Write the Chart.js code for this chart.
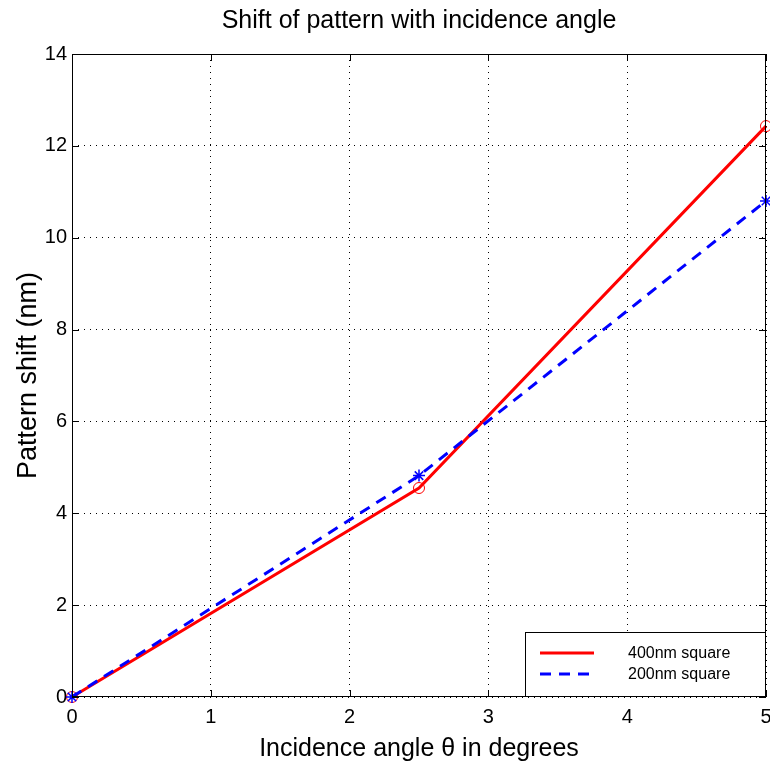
<!DOCTYPE html>
<html lang="en">
<head>
    <meta charset="UTF-8">
    <title>Shift of pattern with incidence angle</title>
    <script src="https://cdn.jsdelivr.net/npm/chart.js@4.4.0/dist/chart.umd.min.js"></script>
    <style>
        body { margin: 0; background: #fff; }
    </style>
</head>
<body>
    <canvas id="grafico" width="770" height="762"></canvas>

<script>
    // dados
    var angulos = [0, 2.5, 5];
    var shift400 = [0, 4.55, 12.43];
    var shift200 = [0, 4.82, 10.8];
    var nomes = ['400nm square', '200nm square'];
    var ticksX = [0, 1, 2, 3, 4, 5];
    var ticksY = [0, 2, 4, 6, 8, 10, 12, 14];

    var fonte = '"Liberation Sans", Arial, sans-serif';

    // moldura, ticks para dentro e legenda estilo matlab
    const moldura = {
        id: 'moldura',
        afterDatasetsDraw(chart) {
            const ctx = chart.ctx;
            const a = chart.chartArea;
            const sx = chart.scales.x;
            const sy = chart.scales.y;
            ctx.save();
            ctx.strokeStyle = '#000';
            ctx.lineWidth = 1;
            ctx.setLineDash([]);
            ctx.strokeRect(a.left + 0.5, a.top + 0.5, a.right - a.left - 1, a.bottom - a.top - 1);
            ctx.beginPath();
            ticksX.forEach(function (v) {
                var px = Math.round(sx.getPixelForValue(v)) + 0.5;
                ctx.moveTo(px, a.bottom); ctx.lineTo(px, a.bottom - 7);
                ctx.moveTo(px, a.top); ctx.lineTo(px, a.top + 7);
            });
            ticksY.forEach(function (v) {
                var py = Math.round(sy.getPixelForValue(v)) + 0.5;
                ctx.moveTo(a.left, py); ctx.lineTo(a.left + 7, py);
                ctx.moveTo(a.right, py); ctx.lineTo(a.right - 7, py);
            });
            ctx.stroke();

            // legenda
            var lx = a.right - 241, ly = a.bottom - 65;
            ctx.fillStyle = '#fff';
            ctx.fillRect(lx, ly, 241, 65);
            ctx.strokeRect(lx + 0.5, ly + 0.5, 240, 64);
            var ds = chart.data.datasets;
            ctx.font = '16px ' + fonte;
            ctx.textBaseline = 'middle';
            ctx.textAlign = 'left';
            [0, 1].forEach(function (i) {
                var y = ly + 21 + i * 21;
                ctx.strokeStyle = ds[i].borderColor;
                ctx.lineWidth = 3;
                ctx.setLineDash(ds[i].borderDash || []);
                ctx.beginPath();
                ctx.moveTo(lx + 15, y);
                ctx.lineTo(lx + 69, y);
                ctx.stroke();
                ctx.fillStyle = '#000';
                ctx.fillText(ds[i].label, lx + 103, y + 1);
            });
            ctx.restore();
        }
    };

    const ctx = document.getElementById('grafico').getContext('2d');
    const myChart = new Chart(ctx, {
        type: 'line',
        data: {
            labels: angulos,
            datasets: [{
                label: nomes[0],
                data: angulos.map(function (x, i) { return { x: x, y: shift400[i] }; }),
                borderColor: '#ff0000',
                backgroundColor: 'rgba(0,0,0,0)',
                borderWidth: 3,
                pointStyle: 'circle',
                pointRadius: 5.5,
                pointBorderWidth: 1,
                pointBorderColor: '#ff0000',
                tension: 0,
                order: 1
            }, {
                label: nomes[1],
                data: angulos.map(function (x, i) { return { x: x, y: shift200[i] }; }),
                borderColor: '#0000ff',
                backgroundColor: 'rgba(0,0,0,0)',
                borderWidth: 3,
                borderDash: [11, 8],
                pointStyle: 'star',
                pointRadius: 6,
                pointBorderWidth: 1.5,
                pointBorderColor: '#0000ff',
                tension: 0,
                order: 0
            }]
        },
        options: {
            responsive: false,
            animation: false,
            clip: false,
            layout: { autoPadding: false, padding: { right: 4, left: 0, bottom: 0, top: 0 } },
            plugins: {
                legend: { display: false },
                tooltip: { enabled: false },
                title: {
                    display: true,
                    fullSize: false,
                    text: 'Shift of pattern with incidence angle',
                    color: '#000',
                    font: { family: fonte, size: 25, weight: 'normal', lineHeight: 1.2 },
                    padding: { top: 6, bottom: 18 }
                }
            },
            scales: {
                x: {
                    type: 'linear',
                    min: 0, max: 5,
                    afterFit: function (s) { s.height = 65; s.paddingLeft = 0; s.paddingRight = 0; },
                    ticks: {
                        stepSize: 1,
                        color: '#000',
                        padding: 8,
                        font: { family: fonte, size: 20 }
                    },
                    grid: {
                        color: '#000',
                        lineWidth: 1,
                        drawTicks: false
                    },
                    border: { display: false, dash: [1, 5] },
                    title: {
                        display: true,
                        text: 'Incidence angle θ in degrees',
                        color: '#000',
                        font: { family: fonte, size: 25, lineHeight: 1 },
                        padding: { top: 2, bottom: 0 }
                    }
                },
                y: {
                    type: 'linear',
                    min: 0, max: 14,
                    afterFit: function (s) { s.width = 72; },
                    ticks: {
                        stepSize: 2,
                        color: '#000',
                        padding: 5,
                        font: { family: fonte, size: 20 }
                    },
                    grid: {
                        color: '#000',
                        lineWidth: 1,
                        drawTicks: false
                    },
                    border: { display: false, dash: [1, 5] },
                    title: {
                        display: true,
                        text: 'Pattern shift (nm)',
                        color: '#000',
                        font: { family: fonte, size: 27, lineHeight: 1 },
                        padding: { top: 15, bottom: 0 }
                    }
                }
            }
        },
        plugins: [moldura]
    });
</script>
</body>
</html>
